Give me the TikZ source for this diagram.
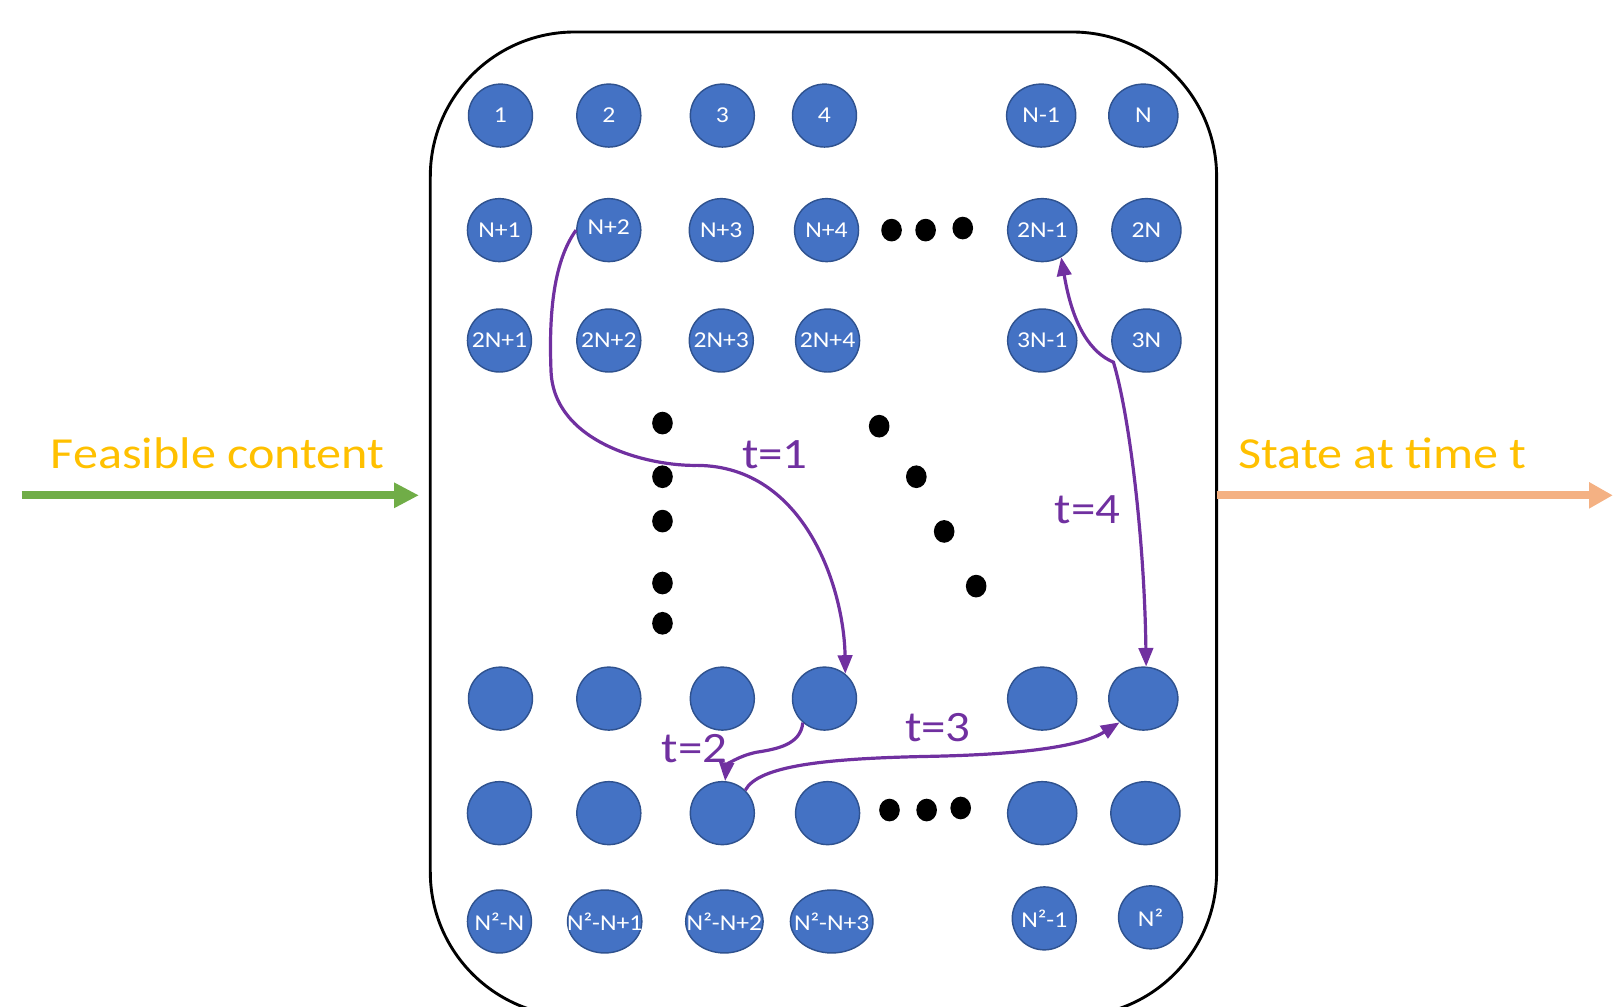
\documentclass[tikz,border=0pt]{standalone}
\usepackage{fontspec}
\setmainfont{Carlito}
\newfontfamily\wfont[FakeStretch=1.13]{Carlito}
\usetikzlibrary{shapes.geometric,arrows.meta}
\definecolor{nblue}{HTML}{4472C4}
\definecolor{nedge}{HTML}{2F528F}
\definecolor{tpurple}{HTML}{7030A0}
\definecolor{tgold}{HTML}{FFC000}
\definecolor{agreen}{HTML}{70AD47}
\definecolor{aorange}{HTML}{F4B183}
\begin{document}
\begin{tikzpicture}[x=1pt,y=-1pt,
  st/.style={ellipse, fill=nblue, draw=nedge, line width=1.4pt, minimum width=62pt, minimum height=61pt, inner sep=0pt},
  wide/.style={st, minimum width=67pt},
  lab/.style={text=white, inner sep=0pt, font=\wfont\fontsize{22}{22}\selectfont},
  dotn/.style={ellipse, fill=black, minimum width=20pt, minimum height=22pt, inner sep=0pt},
  trans/.style={draw=tpurple, line width=3.1pt, -{Triangle[length=18pt,width=14pt]}},
  tlab/.style={text=tpurple, inner sep=0pt, font=\wfont\fontsize{42}{42}\selectfont},
  biglab/.style={text=tgold, inner sep=0pt, anchor=base, font=\wfont\fontsize{43}{43}\selectfont}
]
\useasboundingbox (0,0) rectangle (1568,975);
\begin{scope}
\clip (0,0) rectangle (1568,975);
\draw[line width=2.8pt, rounded corners=140pt] (417,31) rectangle (1179,985);
\end{scope}
% row 1
\node[st,label={[lab]center:1}] (n11) at (485,112) {};
\node[st,label={[lab]center:2}] (n12) at (590,112) {};
\node[st,label={[lab]center:3}] (n13) at (700,112) {};
\node[st,label={[lab]center:4}] (n14) at (799,112) {};
\node[wide,label={[lab]center:N-1}] (n15) at (1009,112) {};
\node[wide,label={[lab]center:N}] (n16) at (1108,112) {};
% row 2
\node[st,label={[lab]center:N+1}] (n21) at (484,223) {};
\node[st,label={[lab,yshift=3pt]center:N+2}] (n22) at (590,223) {};
\node[st,label={[lab]center:N+3}] (n23) at (699,223) {};
\node[st,label={[lab]center:N+4}] (n24) at (801,223) {};
\node[wide,label={[lab]center:2N-1}] (n25) at (1010,223) {};
\node[wide,label={[lab]center:2N}] (n26) at (1111,223) {};
% row 3
\node[st,label={[lab]center:2N+1}] (n31) at (484,330) {};
\node[st,label={[lab]center:2N+2}] (n32) at (590,330) {};
\node[st,label={[lab]center:2N+3}] (n33) at (699,330) {};
\node[st,label={[lab]center:2N+4}] (n34) at (802,330) {};
\node[wide,label={[lab]center:3N-1}] (n35) at (1010,330) {};
\node[wide,label={[lab]center:3N}] (n36) at (1111,330) {};
% row 4
\node[st] (n41) at (485,677) {};
\node[st] (n42) at (590,677) {};
\node[st] (n43) at (700,677) {};
\node[st] (n44) at (799,677) {};
\node[wide] (n45) at (1010,677) {};
\node[wide] (n46) at (1108,677) {};
% row 5
\node[st] (n51) at (484,788) {};
\node[st] (n52) at (590,788) {};
\node[st] (n53) at (700,788) {};
\node[st] (n54) at (802,788) {};
\node[wide] (n55) at (1010,788) {};
\node[wide] (n56) at (1110,788) {};
% row 6
\node[st,label={[lab]center:N²-N}] (n61) at (484,893) {};
\node[st,minimum width=72pt,label={[lab]center:N²-N+1}] (n62) at (586,893) {};
\node[st,minimum width=75pt,label={[lab]center:N²-N+2}] (n63) at (702,893) {};
\node[st,minimum width=80pt,label={[lab]center:N²-N+3}] (n64) at (806,893) {};
\node[st,label={[lab]center:N²-1}] (n65) at (1012,890) {};
\node[st,label={[lab]center:N²}] (n66) at (1115,889) {};
% dots
\node[dotn] (h1) at (864,223) {};
\node[dotn] (h2) at (897,223) {};
\node[dotn] (h3) at (933,221) {};
\node[dotn] (g1) at (862,785) {};
\node[dotn] (g2) at (898,785) {};
\node[dotn] (g3) at (931,783) {};
\node[dotn] (v1) at (642,410) {};
\node[dotn] (v2) at (642,462) {};
\node[dotn] (v3) at (642,505) {};
\node[dotn] (v4) at (642,565) {};
\node[dotn] (v5) at (642,604) {};
\node[dotn] (e1) at (852,413) {};
\node[dotn] (e2) at (888,462) {};
\node[dotn] (e3) at (915,515) {};
\node[dotn] (e4) at (946,568) {};
% transitions
\draw[trans] (n22.west) .. controls (535,255) and (532,310) .. (534,360)
  .. controls (537,430) and (630,452) .. (676,451)
  .. controls (780,452) and (818,570) .. (n44.50);
\draw[trans] (n44.228) .. controls (776,722) and (752,726) .. (733,729)
  .. controls (714,733) and (704,742) .. (n53.85);
\draw[trans] (n53.45) .. controls (735,742) and (800,735) .. (900,733)
  .. controls (1000,731) and (1050,722) .. (n46.225);
\draw[trans, {Triangle[length=18pt,width=14pt]}-{Triangle[length=18pt,width=14pt]}]
  (n46.85) .. controls (1109,520) and (1094,400) .. (1079,351)
  .. controls (1058,342) and (1040,318) .. (n25.305);
% transition labels
\node[tlab] (l1) at (751,441) {t=1};
\node[tlab] (l2) at (673,725) {t=2};
\node[tlab] (l3) at (909,705) {t=3};
\node[tlab] (l4) at (1054,494) {t=4};
% side labels and arrows
\node[biglab] (fc) at (211,454) {Feasible content};
\node[biglab] (sa) at (1340,454) {State at time t};
\coordinate (gs) at (21,480);
\coordinate (ge) at (406,480);
\coordinate (os) at (1179,480);
\coordinate (oe) at (1563,480);
\draw[agreen, line width=8pt, -{Triangle[length=24pt,width=23pt]}] (gs) -- (ge);
\draw[aorange, line width=8pt, -{Triangle[length=23pt,width=24pt]}] (os) -- (oe);
\end{tikzpicture}
\end{document}
